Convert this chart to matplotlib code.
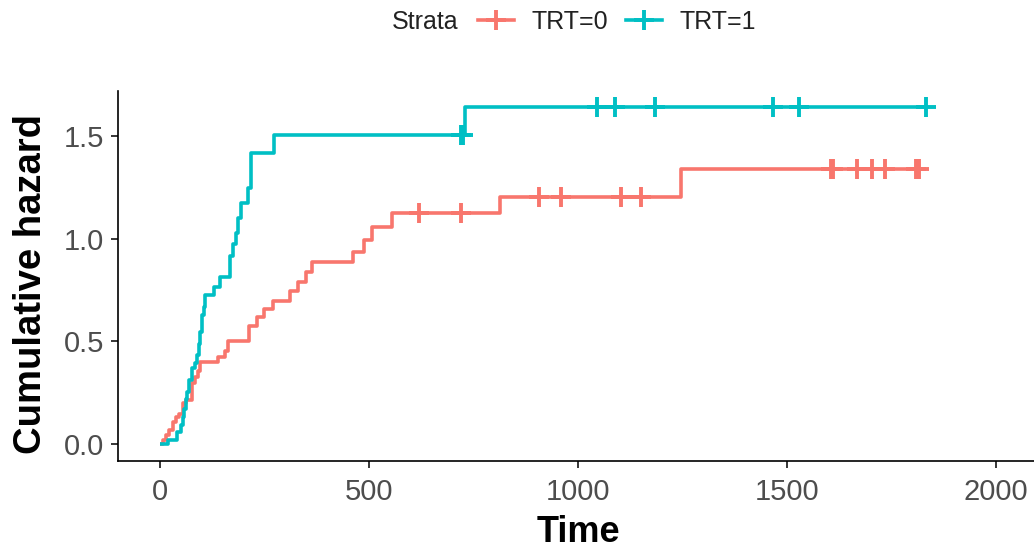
import numpy as np
import matplotlib
matplotlib.use("Agg")
import matplotlib.pyplot as plt
from matplotlib.lines import Line2D

plt.rcParams['font.family'] = ['Liberation Sans', 'DejaVu Sans']

# cumulative hazard steps (time, value after the step)
times_trt0 = [0, 8, 15, 23, 31, 39, 47, 55, 62, 77, 84, 91, 97, 139, 155, 164,
              214, 233, 249, 270, 311, 330, 349, 364, 463, 488, 507, 556, 813,
              1247, 1815]
haz_trt0 = [0, 0.019, 0.044, 0.068, 0.109, 0.133, 0.149, 0.198, 0.214, 0.30,
            0.325, 0.355, 0.40, 0.425, 0.455, 0.50, 0.575, 0.617, 0.656, 0.697,
            0.745, 0.79, 0.839, 0.888, 0.937, 0.994, 1.058, 1.124, 1.202,
            1.338, 1.338]
cens_trt0 = [620, 720, 906, 960, 1103, 1151, 1604, 1610, 1666, 1704, 1734,
             1809, 1815]

times_trt1 = [0, 19, 40, 50, 55, 58, 62, 66, 70, 77, 85, 90, 94, 96, 100, 105,
              109, 129, 145, 169, 175, 183, 188, 194, 210, 218, 273, 729, 1833]
haz_trt1 = [0, 0.02, 0.06, 0.095, 0.13, 0.17, 0.22, 0.255, 0.31, 0.37, 0.395,
            0.435, 0.49, 0.547, 0.628, 0.669, 0.726, 0.766, 0.815, 0.916,
            0.973, 1.03, 1.099, 1.172, 1.245, 1.416, 1.505, 1.643, 1.643]
cens_trt1 = [721, 726, 1046, 1088, 1185, 1466, 1529, 1833]

labels = ["TRT=0", "TRT=1"]
colors = ["#F8766D", "#00BFC4"]
x_ticks = [0, 500, 1000, 1500, 2000]
y_ticks = [0.0, 0.5, 1.0, 1.5]

W, H = 1034, 554
fig = plt.figure(figsize=(W / 100, H / 100), dpi=100)
ax = fig.add_axes([118 / W, (H - 461) / H, 920 / W, (461 - 90.5) / H])


def haz_at(t, times, haz):
    idx = np.searchsorted(times, t, side="right") - 1
    return np.asarray(haz)[idx]


groups = [(times_trt0, haz_trt0, cens_trt0), (times_trt1, haz_trt1, cens_trt1)]
for (t, h, c), col in zip(groups, colors):
    ax.step(t, h, where="post", color=col, lw=2.6, solid_capstyle="butt")
    ax.plot(c, haz_at(c, t, h), ls="none", marker="+", ms=15, mew=2.8,
            color=col)

ax.set_xlim(-100, 2100)
ax.set_ylim(-0.082, 1.722)
ax.set_xticks(x_ticks)
ax.set_yticks(y_ticks)
ax.set_yticklabels([f"{v:.1f}" for v in y_ticks])

for side in ("top", "right"):
    ax.spines[side].set_visible(False)
for side in ("left", "bottom"):
    ax.spines[side].set_linewidth(1.2)
    ax.spines[side].set_color("black")

ax.tick_params(axis="both", direction="out", length=5, width=1.1,
               color="black", labelsize=21, labelcolor="#4D4D4D")
ax.tick_params(axis="y", pad=5)
ax.tick_params(axis="x", pad=7)

ax.set_xlabel("Time", fontsize=26, fontweight="bold", labelpad=7)
ax.set_ylabel("Cumulative hazard", fontsize=27.5, fontweight="bold")
ax.yaxis.set_label_coords((49 - 118) / 920, (461 - 284) / 370.5)

# legend on top: title "Strata" then the two strata
fig.text(392 / W, 1 - 22 / H, "Strata", fontsize=18, color="#222222",
         ha="left", va="center")
handles = [Line2D([], [], color=col, lw=2.6, marker="+", ms=15, mew=2.8)
           for col in colors]
fig.legend(handles, labels, loc="center left",
           bbox_to_anchor=(478 / W, 1 - 22 / H), ncol=2, frameon=False,
           fontsize=18, handlelength=1.45, handletextpad=0.7,
           columnspacing=0.7, borderpad=0, borderaxespad=0,
           labelcolor="#222222")

fig.savefig("out.png", dpi=100)
